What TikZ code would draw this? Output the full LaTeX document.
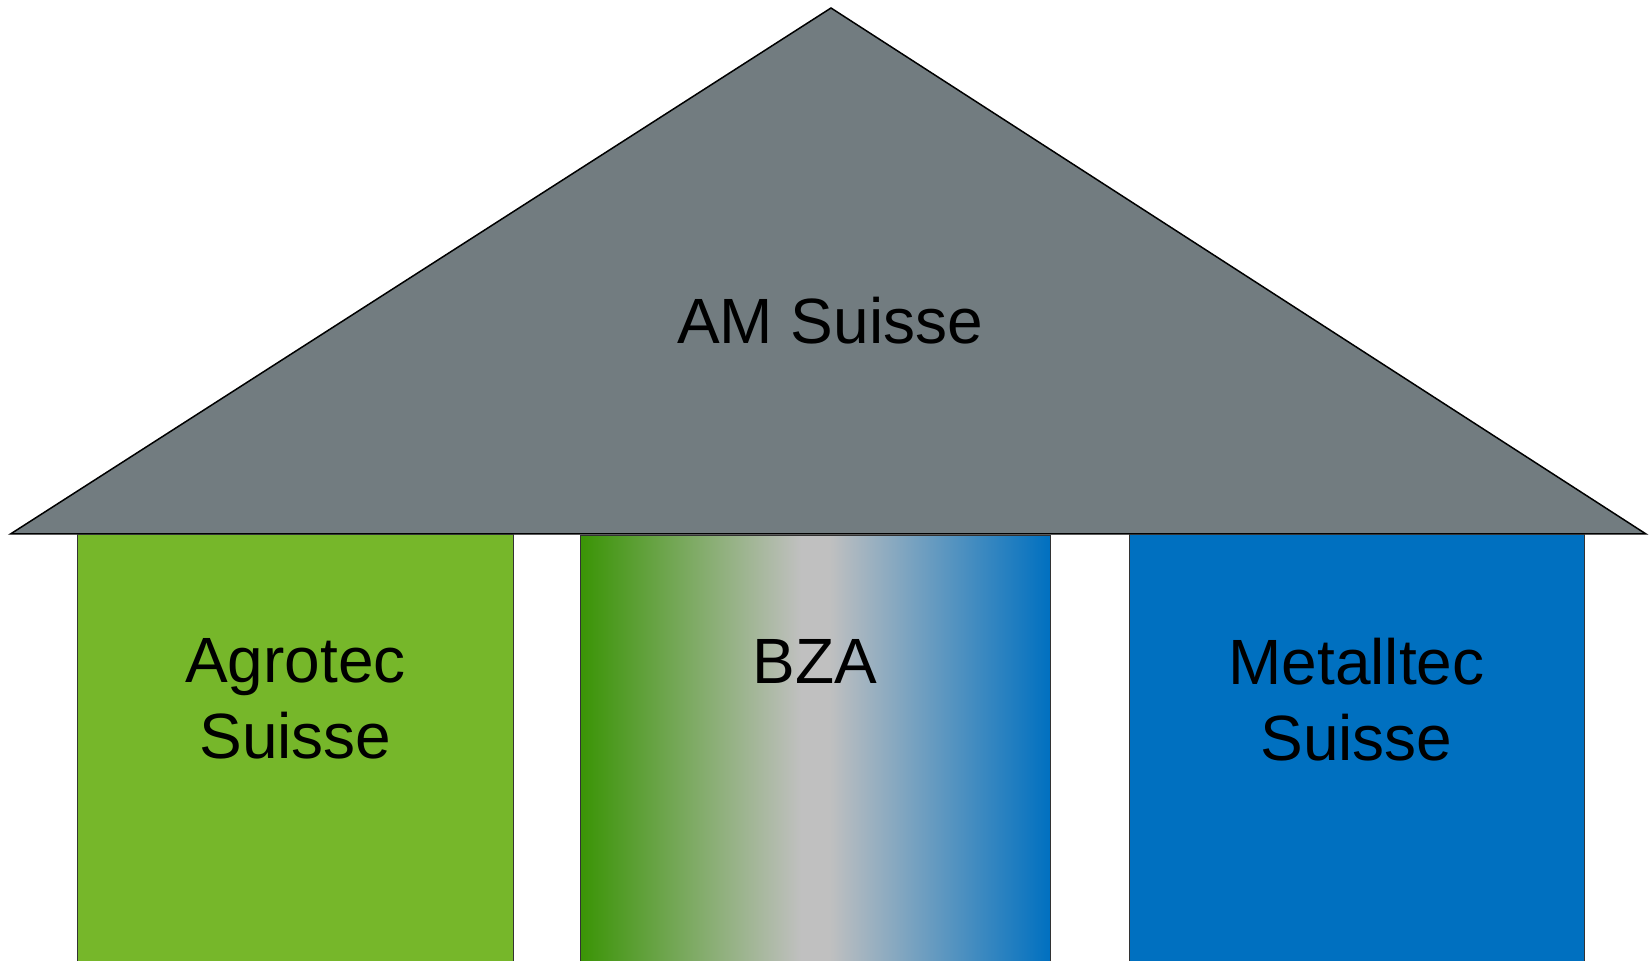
\documentclass[tikz,border=0pt]{standalone}
\usepackage{fontspec}
\setmainfont{Liberation Sans}
\usepackage{tikz}
\usetikzlibrary{positioning}

\definecolor{roofgray}{RGB}{114,124,128}
\definecolor{agrogreen}{RGB}{118,183,42}
\definecolor{bzagreen}{RGB}{58,148,5}
\definecolor{bzagray}{RGB}{192,192,192}
\definecolor{metalblue}{RGB}{0,112,192}

% Green to gray to blue across the middle pillar
\pgfdeclarehorizontalshading{bzashade}{100bp}{color(0bp)=(bzagreen); color(25bp)=(bzagreen);
  color(48.5bp)=(bzagray); color(51.5bp)=(bzagray); color(75bp)=(metalblue); color(100bp)=(metalblue)}

\tikzset{
  pillar/.style={draw=black!80, line width=0.5pt, anchor=north west,
    minimum height=220pt, inner sep=0pt},
  lbl/.style={font=\fontsize{32}{38}\selectfont, align=center, inner sep=0pt}
}

\begin{document}
\begin{tikzpicture}[x=0.5pt,y=-0.5pt]

\useasboundingbox (0,0) rectangle (1649,961);

% Roof
\draw [fill=roofgray, line width=0.75pt, line join=miter] (10.5,534) -- (831,8) -- (1646,534) -- cycle;
\node [lbl, anchor=base] (am) at (830,344) {AM Suisse};

% Pillars
\node [pillar, fill=agrogreen, minimum width=218pt] (agro) at (77,534) {};
\node [pillar, shading=bzashade, minimum width=235pt] (bza) at (579.5,535) {};
\node [pillar, fill=metalblue, minimum width=227.5pt] (metal) at (1128.5,534) {};

% Pillar labels
\node [lbl, below=52pt of agro.north] (agrolbl) {Agrotec\\Suisse};
\node [lbl, below=52pt of bza.north] (bzalbl) {BZA};
\node [lbl, below=52pt of metal.north] (metallbl) {Metalltec\\Suisse};

\end{tikzpicture}
\end{document}
